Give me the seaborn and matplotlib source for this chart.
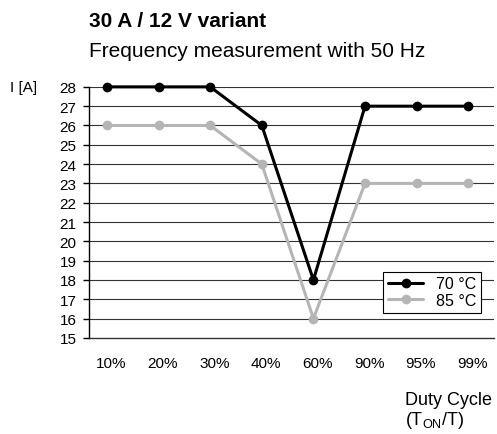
import matplotlib
matplotlib.use("Agg")
import matplotlib.pyplot as plt
import seaborn as sns
import pandas as pd

duty_cycles = ["10%", "20%", "30%", "40%", "60%", "90%", "95%", "99%"]
current_70 = [28, 28, 28, 26, 18, 27, 27, 27]
current_85 = [26, 26, 26, 24, 16, 23, 23, 23]
series_names = ["70 °C", "85 °C"]
y_ticks = list(range(15, 29))

df = pd.DataFrame({
    "pos": list(range(len(duty_cycles))) * 2,
    "current": current_70 + current_85,
    "series": [series_names[0]] * len(duty_cycles) + [series_names[1]] * len(duty_cycles),
})

sns.set_theme(style="white")
plt.rcParams["font.family"] = ["Liberation Sans", "DejaVu Sans"]
plt.rcParams["text.color"] = "black"
plt.rcParams["xtick.color"] = "black"
plt.rcParams["ytick.color"] = "black"
plt.rcParams["xtick.labelcolor"] = "black"
plt.rcParams["ytick.labelcolor"] = "black"

fig = plt.figure(figsize=(4.97, 4.35), dpi=100)
ax = fig.add_axes([0.179, 0.221, 0.815, 0.577])

# gridlines first so the lines sit on top
for y in y_ticks[1:]:
    ax.axhline(y, color="#333333", linewidth=0.8, zorder=1)

sns.lineplot(
    data=df, x="pos", y="current", hue="series",
    palette=["#000000", "#b5b5b5"], marker="o", markersize=7,
    markeredgewidth=0, linewidth=2.2, sort=False, ax=ax, zorder=3,
    clip_on=False,
)

ax.set_xlim(-0.35, 7.5)
ax.set_ylim(15, 28)
ax.set_yticks(y_ticks)
ax.set_yticklabels([str(v) for v in y_ticks], fontsize=11)
ax.set_xticks([k + 0.08 for k in range(len(duty_cycles))])
ax.set_xticklabels(duty_cycles, fontsize=11)
ax.set_xticks([k + 0.5 for k in range(len(duty_cycles))], minor=True)
ax.tick_params(axis="x", which="major", length=0, pad=13)
ax.tick_params(axis="x", which="minor", length=5, width=1, color="black", direction="out")
ax.tick_params(axis="y", length=4, width=1, color="black", direction="out", pad=5, left=True)
ax.set_xlabel("")
ax.set_ylabel("")

for side in ["top", "right"]:
    ax.spines[side].set_visible(False)
ax.spines["left"].set_color("black")
ax.spines["bottom"].set_color("#333333")
ax.spines["left"].set_linewidth(1)
ax.spines["bottom"].set_linewidth(1)

leg = ax.legend(
    loc="lower right", bbox_to_anchor=(0.968, 0.10), borderaxespad=0,
    fontsize=11.5, frameon=True, fancybox=False, edgecolor="black",
    framealpha=1, borderpad=0.3, handlelength=2.2, labelspacing=0.1,
)
leg.get_frame().set_linewidth(0.8)
for t in leg.get_texts():
    t.set_color("black")

fig.text(0.179, 0.938, "30 A / 12 V variant", fontsize=15, fontweight="bold", va="baseline")
fig.text(0.179, 0.869, "Frequency measurement with 50 Hz", fontsize=15, va="baseline")
fig.text(0.02, 0.797, "I [A]", fontsize=11, va="center")
fig.text(0.815, 0.069, "Duty Cycle", fontsize=13, va="baseline")
fig.text(0.815, 0.023, r"(T$_{\mathregular{ON}}$/T)", fontsize=13, va="baseline")

fig.savefig("out.png", dpi=100)
